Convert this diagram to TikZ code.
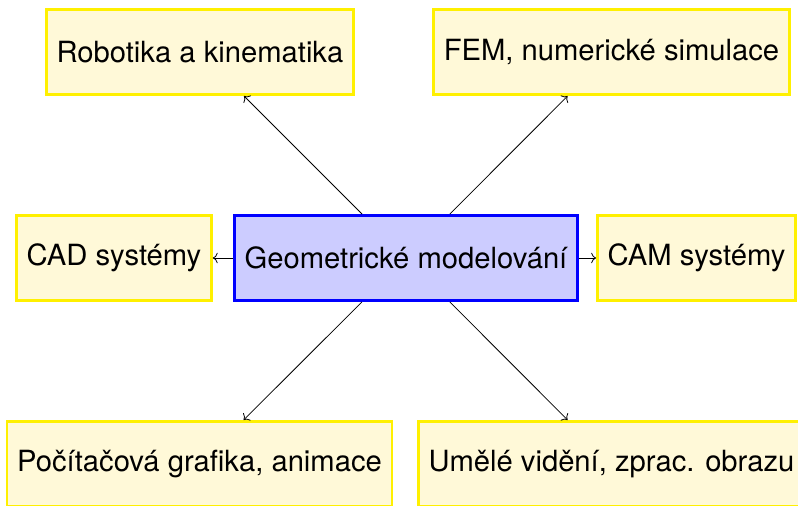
\documentclass[tikz,border=0pt]{standalone}
\usepackage{fontspec}
\setmainfont{TeX Gyre Heros}
\usetikzlibrary{arrows.meta}
\definecolor{boxfill}{RGB}{255,249,216}
\definecolor{boxline}{RGB}{255,240,0}
\tikzset{
  topic/.style={draw=boxline, fill=boxfill, line width=1.3pt, minimum height=42.7pt,
    inner xsep=5.1pt, font=\fontsize{14.6}{17}\selectfont},
  core/.style={topic, draw=blue, fill=blue!20}
}

\begin{document}
\begin{tikzpicture}[>=To, x=0.5pt, y=-0.5pt]
        \clip (0,0) rectangle (798,505);
        \node[core] (geo) at (406,258) {Geometrické modelování};
        \node[topic] (robo) at (200,52) {Robotika a kinematika};
        \node[topic] (fem) at (611.5,52) {FEM, numerické simulace};
        \node[topic] (cad) at (114,258) {CAD systémy};
        \node[topic] (cam) at (696.5,258) {CAM systémy};
        \node[topic] (pocit) at (199.5,464) {Počítačová grafika, animace};
        \node[topic] (umele) at (611.5,464) {Umělé vidění, zprac. obrazu};
        \foreach \t in {robo,fem,cad,cam,pocit,umele}{
            \draw[->] (geo) -- (\t);
        }
\end{tikzpicture}
\end{document}
